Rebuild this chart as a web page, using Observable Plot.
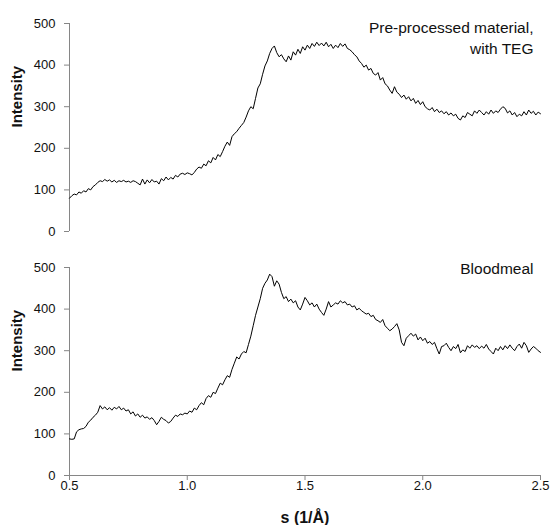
<!DOCTYPE html>
<html>
<head>
<meta charset="utf-8">
<script src="https://cdn.jsdelivr.net/npm/d3@7"></script>
<script src="https://cdn.jsdelivr.net/npm/@observablehq/plot@0.6"></script>
<style>
  html, body { margin: 0; padding: 0; background: #fff; }
  #chart svg { display: block; }
</style>
</head>
<body>
<div id="chart"></div>
<script>
// s (1/Å) sampled every 0.01 from 0.50 to 2.50
const sStart = 0.5;
const sStep = 0.01;

// Top panel: Pre-processed material, with TEG
const tegIntensity = [
  80,86,90,88,95,92,98,95,103,100,
  108,112,118,122,120,125,121,124,119,123,
  118,122,120,123,119,121,118,122,120,116,
  112,126,114,124,117,125,119,121,114,127,
  122,131,124,130,126,135,131,138,140,137,
  141,139,136,142,150,155,152,162,158,170,
  165,178,172,185,180,192,205,215,207,228,
  235,240,248,255,262,275,290,300,295,320,
  345,355,378,398,410,428,440,446,430,420,
  425,415,408,422,412,432,424,438,428,444,
  436,448,440,452,445,455,447,453,446,455,
  444,450,440,448,442,452,445,451,440,437,
  432,425,420,410,404,395,400,388,392,380,
  376,382,364,370,355,350,340,332,348,335,
  330,322,328,318,324,314,320,308,315,305,
  312,300,295,292,298,288,294,286,290,283,
  288,280,285,278,282,272,268,278,274,286,
  282,278,290,284,292,286,280,288,282,292,
  284,290,286,294,300,296,285,290,280,286,
  276,282,278,288,280,292,284,289,280,287,
  283
];

// Bottom panel: Bloodmeal
const bloodmealIntensity = [
  88,87,88,105,110,112,113,118,128,133,
  140,145,152,168,160,165,158,163,157,164,
  160,166,158,162,155,158,148,153,143,148,
  140,145,138,141,135,139,132,122,130,140,
  135,132,126,130,138,145,142,148,146,150,
  148,155,152,162,158,168,175,170,185,192,
  188,200,197,210,222,218,230,240,236,255,
  270,285,280,292,298,295,315,335,360,385,
  405,425,450,462,470,484,478,455,468,460,
  440,425,430,418,424,415,420,405,398,412,
  428,420,410,415,405,412,400,392,385,400,
  418,405,410,415,412,420,415,418,410,412,
  405,408,398,402,396,392,388,390,382,385,
  375,372,368,375,360,354,348,352,358,365,
  350,320,312,330,336,342,335,340,326,333,
  324,330,318,322,315,320,305,292,310,312,
  318,308,300,310,305,315,295,302,298,312,
  306,314,308,312,305,311,306,315,304,298,
  292,306,300,310,302,312,305,314,306,300,
  310,316,306,320,312,296,304,310,306,300,
  296
];

const xTicks = [0.5, 1.0, 1.5, 2.0, 2.5];
const yTicks = [0, 100, 200, 300, 400, 500];
const topLabel = "Pre-processed material,\nwith TEG";
const bottomLabel = "Bloodmeal";
const yTitle = "Intensity";
const xTitle = "s (1/Å)";

const toRows = (vals) => vals.map((v, i) => ({s: +(sStart + i * sStep).toFixed(2), v}));

const FONT = "'Liberation Sans', Arial, Helvetica, sans-serif";
const AXIS = "#868686";

function panel({rows, label, height, marginTop, marginBottom, showX, labelDy}) {
  const marks = [
    Plot.ruleX([0.5], {stroke: AXIS, y1: 0, y2: 500}),
    Plot.axisY({ticks: yTicks, tickSize: 5, tickPadding: 9, stroke: AXIS, fill: "#111", label: null, fontSize: 13}),
    Plot.text([yTitle], {frameAnchor: "left", dx: -52, rotate: -90, fontWeight: "bold", fontSize: 15, fill: "#111"}),
    Plot.line(rows, {x: "s", y: "v", stroke: "#000", strokeWidth: 1}),
    Plot.text([label], {frameAnchor: "top-right", textAnchor: "end", lineAnchor: "top", dx: -7, dy: labelDy, fontSize: 15.5, lineHeight: 1.35, fill: "#111"})
  ];
  if (showX) {
    marks.unshift(Plot.ruleY([0], {stroke: AXIS}));
    marks.push(Plot.axisX({ticks: xTicks, tickFormat: d3.format(".1f"), tickSize: 5, tickPadding: 0, stroke: AXIS, fill: "#111", label: null, fontSize: 13}));
    marks.push(Plot.text([xTitle], {frameAnchor: "bottom", dy: 47, fontWeight: "bold", fontSize: 16, fill: "#111"}));
  }
  return Plot.plot({
    width: 550,
    height,
    marginLeft: 69,
    marginRight: 10,
    marginTop,
    marginBottom,
    style: {fontFamily: FONT, fontSize: "13px", background: "#fff", color: "#111"},
    x: {domain: [0.5, 2.5], axis: null},
    y: {domain: [0, 500], axis: null},
    marks
  });
}

const chart = document.getElementById("chart");
chart.appendChild(panel({rows: toRows(tegIntensity), label: topLabel, height: 249, marginTop: 23, marginBottom: 18, showX: false, labelDy: -5}));
chart.appendChild(panel({rows: toRows(bloodmealIntensity), label: bottomLabel, height: 276, marginTop: 18, marginBottom: 50, showX: true, labelDy: -8}));
</script>
</body>
</html>
